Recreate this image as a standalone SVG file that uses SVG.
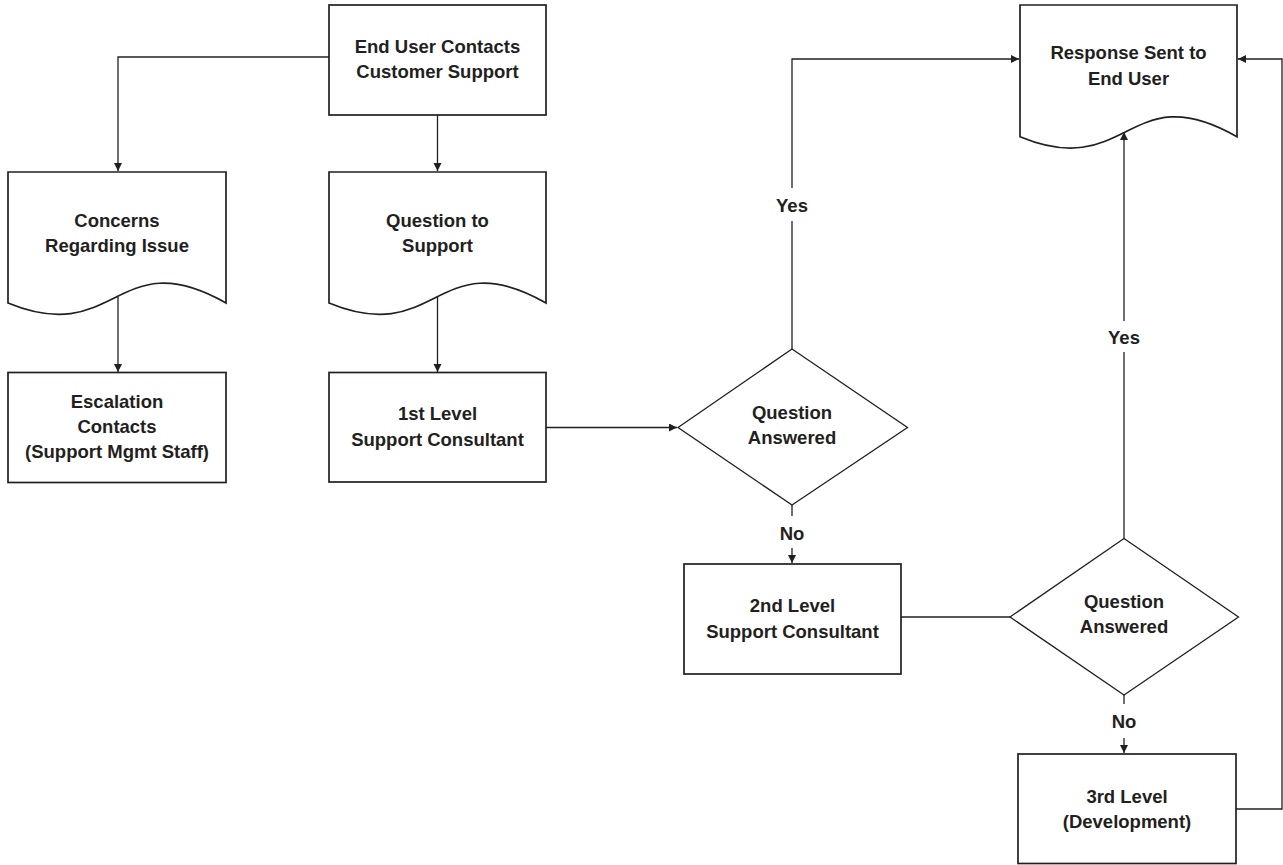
<svg xmlns="http://www.w3.org/2000/svg" width="1283" height="865" viewBox="0 0 1283 865">
<style>
.shape{fill:#fff;stroke:#231f20;stroke-width:1.7}
.dia{fill:#fff;stroke:#231f20;stroke-width:1.3}
.conn{fill:none;stroke:#231f20;stroke-width:1.3}
text{font-family:"Liberation Sans",Arial,sans-serif;font-weight:bold;font-size:18.5px;fill:#231f20;text-anchor:middle}
</style>
<defs>
<marker id="arr" markerUnits="userSpaceOnUse" markerWidth="10" markerHeight="10" refX="8" refY="4" orient="auto">
<path d="M0,0 L8,4 L0,8 z" fill="#231f20"/>
</marker>
</defs>
<rect width="1283" height="865" fill="#fff"/>
<g id="connectors">
<path class="conn" d="M329,57 H118 V171" marker-end="url(#arr)"/>
<path class="conn" d="M437.5,115 V171" marker-end="url(#arr)"/>
<path class="conn" d="M118,297 V372" marker-end="url(#arr)"/>
<path class="conn" d="M437.5,297 V372" marker-end="url(#arr)"/>
<path class="conn" d="M546,427.5 H677" marker-end="url(#arr)"/>
<path class="conn" d="M792,349 V221"/>
<path class="conn" d="M792,188 V59 H1019" marker-end="url(#arr)"/>
<text x="792" y="212">Yes</text>
<path class="conn" d="M792,505 V516"/>
<text x="792" y="540">No</text>
<path class="conn" d="M792,548 V563" marker-end="url(#arr)"/>
<path class="conn" d="M901,617 H1010"/>
<path class="conn" d="M1124,538.5 V352"/>
<text x="1124" y="344">Yes</text>
<path class="conn" d="M1124,321 V132" marker-end="url(#arr)"/>
<path class="conn" d="M1124,695 V704"/>
<text x="1124" y="728">No</text>
<path class="conn" d="M1124,738 V753" marker-end="url(#arr)"/>
<path class="conn" d="M1236,809 H1282 V59 H1238" marker-end="url(#arr)"/>
</g>
<g id="end-user-contacts">
<rect class="shape" x="329" y="5" width="217" height="110"/>
<text x="437.5" y="53">End User Contacts</text>
<text x="437.5" y="78">Customer Support</text>
</g>
<g id="concerns">
<path class="shape" d="M8,172 H226 V303 C117,241 117,348 8,303 Z"/>
<text x="117" y="227">Concerns</text>
<text x="117" y="252">Regarding Issue</text>
</g>
<g id="question-to-support">
<path class="shape" d="M329,172 H546 V303 C437.5,241 437.5,348 329,303 Z"/>
<text x="437.5" y="227">Question to</text>
<text x="437.5" y="252">Support</text>
</g>
<g id="escalation">
<rect class="shape" x="8" y="372.5" width="218" height="110"/>
<text x="117" y="408">Escalation</text>
<text x="117" y="433">Contacts</text>
<text x="117" y="458">(Support Mgmt Staff)</text>
</g>
<g id="first-level">
<rect class="shape" x="329" y="372.5" width="217" height="109.5"/>
<text x="437.5" y="420">1st Level</text>
<text x="437.5" y="445.5">Support Consultant</text>
</g>
<g id="decision-1">
<polygon class="dia" points="678,427.5 792,349 907.5,427.5 792,505"/>
<text x="792" y="418.5">Question</text>
<text x="792" y="444">Answered</text>
</g>
<g id="response">
<path class="shape" d="M1020,5 H1237 V136.7 C1128.5,74.7 1128.5,181.7 1020,136.7 Z"/>
<text x="1128.5" y="59">Response Sent to</text>
<text x="1128.5" y="84.5">End User</text>
</g>
<g id="second-level">
<rect class="shape" x="684" y="564" width="217" height="110"/>
<text x="792.5" y="612">2nd Level</text>
<text x="792.5" y="637.5">Support Consultant</text>
</g>
<g id="decision-2">
<polygon class="dia" points="1010,617 1124,538.5 1238.5,617 1124,695"/>
<text x="1124" y="607.5">Question</text>
<text x="1124" y="633">Answered</text>
</g>
<g id="third-level">
<rect class="shape" x="1018" y="754" width="218" height="109.5"/>
<text x="1127" y="802.5">3rd Level</text>
<text x="1127" y="828">(Development)</text>
</g>
</svg>
